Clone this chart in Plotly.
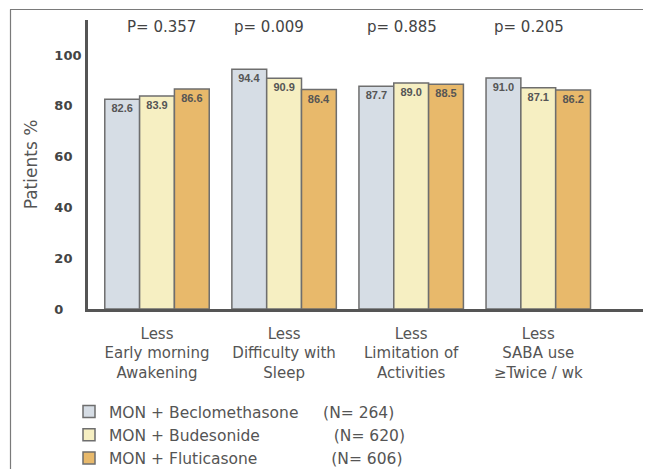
import plotly.graph_objects as go

categories = ["Less<br>Early morning<br>Awakening",
              "Less<br>Difficulty with<br>Sleep",
              "Less<br>Limitation of<br>Activities",
              "Less<br>SABA use<br>\u2265Twice / wk"]
series_names = ["MON + Beclomethasone", "MON + Budesonide", "MON + Fluticasone"]
series_n = ["(N= 264)", "(N= 620)", "(N= 606)"]
beclo = [82.6, 94.4, 87.7, 91.0]
budes = [83.9, 90.9, 89.0, 87.1]
flutic = [86.6, 86.4, 88.5, 86.2]
p_values = ["P= 0.357", "p= 0.009", "p= 0.885", "p= 0.205"]
y_ticks = [0, 20, 40, 60, 80, 100]

colors = ["#d6dde5", "#f6efc2", "#e8b96b"]
name_pad = [5, 15, 15]

# page body has an 8px margin: figure is drawn 8px in from the window corner
OFF = 8
W, H = 651 - OFF, 469 - OFF
AXIS_LEFT, AXIS_BOTTOM, AXIS_TOP = 88, 309, 20   # reference pixels
ML = AXIS_LEFT - OFF
MT = AXIS_TOP - OFF
MB = H - (AXIS_BOTTOM - OFF)
MR = 0
PW = W - ML - MR
PH = H - MT - MB

def px_x(p):
    return (p - OFF - ML) / PW

def px_y(p):
    return (H - MB - (p - OFF)) / PH

fig = go.Figure()
for vals, nm, nn, col, pad in zip([beclo, budes, flutic], series_names, series_n, colors, name_pad):
    fig.add_trace(go.Bar(
        x=list(range(len(categories))), y=vals,
        name=nm + "\u00a0" * pad + nn,
        marker=dict(color=col, line=dict(color="#6e6e6e", width=1.5)),
        text=[f"{v:.1f}" for v in vals],
        textposition="inside", insidetextanchor="end",
        textfont=dict(family="Liberation Sans", size=11, color="#555555", weight="bold"),
        textangle=0,
    ))

p_shift = [4, -15, -9, -9]
for i, (pv, sh) in enumerate(zip(p_values, p_shift)):
    fig.add_annotation(x=i, y=px_y(27), xref="x", yref="paper", yanchor="middle",
                       text=pv, showarrow=False,
                       xshift=sh, font=dict(family="DejaVu Sans", size=15, color="#444444"))

# outer frame lines
fig.add_shape(type="line", xref="paper", yref="paper",
              x0=px_x(10), x1=1.0, y0=px_y(9.5), y1=px_y(9.5),
              line=dict(color="#7a7a7a", width=1.2))
fig.add_shape(type="line", xref="paper", yref="paper",
              x0=px_x(10.5), x1=px_x(10.5), y0=px_y(9.5), y1=px_y(469),
              line=dict(color="#7a7a7a", width=1.2))

fig.update_layout(
    width=W, height=H,
    margin=dict(l=ML, r=MR, t=MT, b=MB, pad=0, autoexpand=False),
    paper_bgcolor="white", plot_bgcolor="white",
    barmode="group", bargap=0.178, bargroupgap=0,
    showlegend=True,
    legend=dict(x=px_x(69), y=px_y(395), xanchor="left", yanchor="top",
                font=dict(family="DejaVu Sans", size=15.5, color="#555555"),
                bgcolor="rgba(0,0,0,0)", tracegroupgap=0, itemclick=False),
    xaxis=dict(range=[-0.543, 3.887], tickvals=list(range(len(categories))),
               ticktext=categories, showline=True, linecolor="#555555", linewidth=2.8,
               showgrid=False, zeroline=False, ticks="outside", ticklen=9,
               tickcolor="rgba(0,0,0,0)", automargin=False,
               tickfont=dict(family="DejaVu Sans", size=15, color="#555555")),
    yaxis=dict(range=[0, 113.8], tickvals=y_ticks,
               ticktext=[str(t) + "\u2007" * (3 - len(str(t))) for t in y_ticks],
               showline=True, linecolor="#555555", linewidth=2.8,
               showgrid=False, zeroline=False, ticks="outside", ticklen=1,
               tickcolor="rgba(0,0,0,0)", automargin=False,
               tickfont=dict(family="DejaVu Sans", size=13, color="#444444", weight="bold"),
               title=dict(text="Patients %", standoff=13,
                          font=dict(family="DejaVu Sans", size=17, color="#555555"))),
)

fig.write_html("out.html")
